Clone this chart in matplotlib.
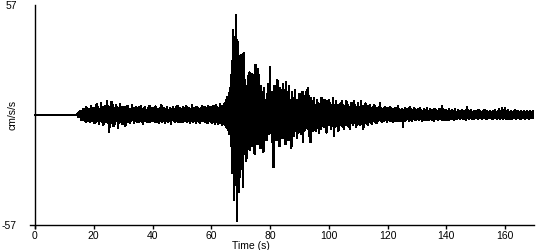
import numpy as np
import matplotlib
matplotlib.use("Agg")
import matplotlib.pyplot as plt

# acceleration trace (cm/s/s), one sample every 0.25 s
sample_step = 0.25

pre_event = [0.0] * 58  # 0 - 14.25 s, flat

p_arrival = [0.8, -1.0,
             1.5, -1.2, 2.0, -2.4, 1.8, -2.6, 3.0, -2.2, 2.8, -3.4, 4.0, -2.5, 3.2, -3.0, 2.6, -3.8, 4.5, -2.8, 3.5, -3.1,
             3.8, -4.2, 2.9, -3.5, 5.5, -3.0, 4.1, -4.8, 3.3, -2.9, 6.2, -3.6, 4.0, -5.2, 3.1, -3.8, 4.6, -3.3, 7.0, -4.1,
             4.4, -8.9, 3.6, -4.0, 6.8, -3.5, 4.9, -5.8, 3.2, -4.4, 5.1, -3.0, 4.2, -6.5, 3.7, -3.9, 5.5, -3.4, 4.0, -4.6]

p_coda = [3.5, -3.1, 4.2, -5.6, 3.0, -2.8, 4.8, -3.4, 3.3, -3.9, 2.9, -3.2, 5.2, -2.7, 3.6, -4.1, 3.1, -3.0, 4.0, -3.5,
          2.8, -3.6, 3.9, -2.9, 4.6, -3.3, 3.0, -4.5, 3.4, -2.8, 4.1, -3.1, 2.7, -3.7, 3.5, -2.9, 4.7, -3.4, 3.2, -3.0,
          3.6, -2.9, 3.1, -3.5, 4.4, -2.7, 3.3, -3.8, 2.9, -4.2, 3.7, -3.0, 4.9, -3.3, 3.0, -2.8, 3.8, -3.9, 3.2, -2.9,
          4.0, -3.4, 2.8, -3.1, 3.5, -4.6, 3.1, -2.7, 4.3, -3.2, 3.0, -3.6, 3.9, -2.9, 4.8, -3.3, 2.9, -3.8, 3.4, -3.0,
          3.3, -3.7, 4.1, -2.8, 3.0, -3.2, 4.6, -3.5, 3.2, -2.9, 3.8, -4.0, 2.9, -3.1, 5.0, -3.4, 3.5, -2.8, 3.1, -3.9,
          4.2, -3.0, 3.4, -3.6, 2.9, -4.3, 3.7, -3.1, 4.5, -2.9, 3.2, -3.5, 3.9, -3.3, 3.0, -4.1, 4.4, -3.2, 3.6, -3.4,
          3.9, -4.0, 4.6, -3.5, 3.4, -4.4, 5.1, -3.8, 4.0, -4.8, 3.7, -4.2, 5.5, -3.9, 4.4, -5.0, 4.8, -4.6, 6.0, -5.2]

s_pulse = [8.0, -6.5, 9.5, -7.8, 11.5, -10.0, 14.0, -16.0, 28.0, -30.0, 44.0, -44.0, 40.0, -36.0, 52.0, -55.0, 38.0, -40.0, 24.0, -32.0,
           31.0, -28.0, 22.0, -37.0, 32.0, -20.0, 18.0, -24.0, 15.0, -22.0, 20.0, -12.0, 22.0, -18.0, 10.0, -16.0, 21.0, -14.0, 12.0, -20.0,
           26.0, -10.0, 14.0, -15.0, 24.0, -12.0, 9.0, -17.0, 15.0, -8.0, 12.0, -19.0, 14.0, -9.0, 8.0, -13.0, 11.0, -7.0, 16.0, -10.0]

s_coda = [25.0, -9.0, 12.0, -14.0, 8.0, -27.0, 15.0, -10.0, 9.0, -13.0, 18.0, -8.0, 11.0, -16.0, 14.0, -9.0, 10.0, -12.0, 16.0, -8.0,
          9.0, -15.0, 17.0, -7.0, 8.0, -13.0, 15.0, -8.0, 7.0, -17.0, 12.0, -6.0, 9.0, -11.0, 13.0, -7.0, 8.0, -12.0, 6.0, -9.0,
          11.0, -6.0, 7.0, -10.0, 12.0, -14.0, 6.0, -8.0, 10.0, -5.0, 13.0, -7.0, 14.0, -11.0, 6.0, -14.0, 9.0, -5.0, 7.0, -8.0,
          9.0, -6.0, 5.0, -8.0, 8.0, -5.0, 6.0, -9.0, 5.0, -7.0, 9.0, -4.0, 6.0, -6.0, 8.0, -5.0, 4.0, -9.0, 7.0, -5.0,
          8.0, -5.0, 6.0, -7.0, 5.0, -4.0, 9.0, -11.0, 5.0, -6.0, 7.0, -4.0, 5.0, -8.0, 4.0, -5.0, 6.0, -4.0, 7.0, -6.0,
          5.0, -7.0, 4.0, -5.0, 7.0, -4.0, 5.0, -6.0, 4.0, -7.0, 6.0, -4.0, 3.5, -5.0, 7.0, -4.0, 5.0, -6.0, 4.0, -5.0,
          6.0, -4.0, 4.0, -5.0, 7.0, -3.5, 4.5, -7.0, 4.0, -3.5, 6.0, -4.0, 3.5, -5.0, 4.5, -3.0, 5.0, -4.0, 3.5, -4.5,
          4.0, -3.0, 5.0, -3.5, 3.0, -4.0, 3.5, -3.0, 4.0, -2.5, 6.0, -3.0, 3.0, -3.5, 2.5, -3.0, 4.0, -2.5, 3.0, -3.5]

tail = [3.5, -2.5, 3.0, -3.0, 4.0, -2.5, 2.5, -3.5, 3.0, -2.5, 3.5, -3.0, 2.5, -2.5, 4.5, -3.0, 3.0, -2.5, 2.5, -3.0,
        3.0, -6.0, 2.5, -3.0, 3.5, -2.5, 3.0, -2.0, 2.5, -3.0, 4.0, -2.5, 3.0, -3.0, 2.5, -2.0, 3.5, -2.5, 3.0, -2.5,
        2.5, -2.0, 3.0, -2.5, 3.5, -2.0, 2.5, -3.0, 2.0, -2.5, 3.0, -2.0, 2.5, -2.5, 3.5, -2.0, 2.0, -2.5, 3.0, -2.0,
        2.5, -2.5, 2.0, -3.0, 3.0, -2.0, 2.5, -2.0, 2.0, -2.5, 3.0, -2.0, 2.5, -2.0, 4.7, -2.5, 3.0, -2.0, 2.0, -2.5,
        2.5, -2.0, 2.0, -2.5, 3.0, -1.5, 2.0, -2.0, 2.5, -1.5, 2.0, -2.5, 3.0, -2.0, 1.5, -2.0, 2.5, -1.5, 2.0, -2.0,
        2.0, -1.5, 2.5, -2.0, 1.5, -2.0, 2.0, -2.6, 4.0, -1.5, 2.5, -2.0, 2.0, -1.5, 2.5, -2.0, 1.5, -2.0, 2.0, -1.5,
        2.0, -1.5, 1.5, -2.0, 2.5, -1.5, 2.0, -1.5, 1.5, -2.0, 2.0, -1.5, 2.5, -1.5, 1.5, -2.0, 2.0, -1.5, 1.5, -1.5,
        2.0, -1.5, 1.5, -2.0, 2.0, -1.5, 2.5, -1.5, 1.5, -2.0, 2.0, -1.5, 3.0, -2.0, 2.0, -1.5, 3.5, -2.0, 2.5, -1.5,
        3.5, -2.0, 2.0, -1.5, 2.5, -2.0, 1.5, -1.5, 2.0, -2.0, 1.5, -1.5, 2.0, -1.5, 2.5, -2.0, 1.5, -1.5, 2.0, -1.5,
        1.5, -2.0, 2.0, -1.5, 1.5, -1.5, 2.0, -2.0, 1.5, -1.5, 2.0, -1.5, 1.5, -2.0, 2.0, -1.5, 1.5, -1.5, 2.0, -1.5,
        1.0]

accel = np.array(pre_event + p_arrival + p_coda + s_pulse + s_coda + tail, dtype=float)
time = np.arange(len(accel)) * sample_step

x_ticks = [0, 20, 40, 60, 80, 100, 120, 140, 160]
y_max = 57
x_min, x_max = -1.7, 170

plt.rcParams['font.family'] = ['Liberation Sans', 'DejaVu Sans']

fig = plt.figure(figsize=(5.5, 2.5), dpi=100)
# data x=0 sits at 35 px, 2.9375 px per second
px_per_s = 2.9375
ax = fig.add_axes([(35 + x_min * px_per_s) / 550, 0.1 - 3 / 250,
                   (x_max - x_min) * px_per_s / 550, 0.88 + 3 / 250])

ax.plot(time, accel, color='black', lw=1.0, antialiased=False)

ax.set_xlim(x_min, x_max)
ax.set_ylim(-y_max - 1.5, y_max)

for side in ['top', 'right']:
    ax.spines[side].set_visible(False)
ax.spines['left'].set_position(('data', 0))
ax.spines['bottom'].set_position(('data', -y_max))
for side in ['left', 'bottom']:
    ax.spines[side].set_linewidth(1.0)

ax.set_xticks(x_ticks)
ax.set_xticklabels([str(v) for v in x_ticks])
ax.tick_params(axis='x', direction='out', length=3, width=1, pad=1.0, labelsize=7.5)

ax.set_yticks([y_max, -y_max])
ax.set_yticklabels([str(y_max), str(-y_max)])
ax.tick_params(axis='y', length=0, pad=13, labelsize=7.5)

fig.text(12 / 550, 0.54, 'cm/s/s', rotation=90, ha='center', va='center', fontsize=7.5)
fig.text(251 / 550, 1 - 246 / 250, 'Time (s)', ha='center', va='center', fontsize=7.5)

fig.savefig('out.png', dpi=100)
